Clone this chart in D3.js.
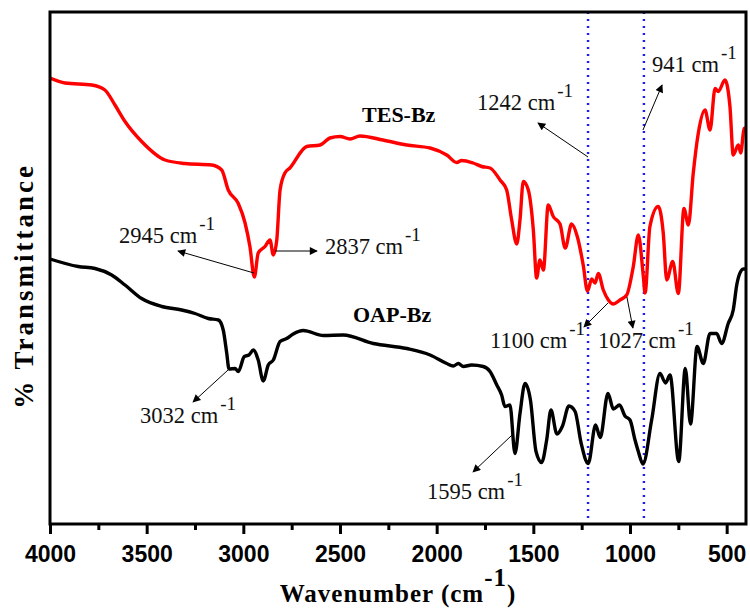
<!DOCTYPE html>
<html>
<head>
<meta charset="utf-8">
<script src="https://cdn.jsdelivr.net/npm/d3@7"></script>
<style>
  body { margin: 0; background: #fff; }
</style>
</head>
<body>
<div id="chart"></div>
<script>
// TES-Bz spectrum (red), wavenumber in cm-1 and transmittance (arb.)
var tes_wn = [4000,3922,3784,3716,3664,3612,3526,3405,3302,3164,3112,3078,3026,2991,2966,2943,2923,2888,2862,2845,2827,2810,2785,2759,2672,2603,2552,2500,2448,2397,2278,2155,2034,1948,1896,1871,1812,1767,1724,1672,1638,1612,1586,1569,1552,1526,1500,1483,1466,1448,1423,1397,1362,1335,1302,1272,1242,1220,1198,1181,1164,1138,1112,1086,1052,1017,983,957,931,922,897,854,828,810,779,750,721,698,673,647,612,586,560,543,509,483,466,440,427,410,400];
var tes_t = [89.2,88.2,87.8,86.8,83.8,80.5,76.5,72.8,72.1,71.8,70.8,66.8,64.1,60.2,55.5,49.4,54.2,55.5,56.8,53.8,56.8,66.8,70.2,71.2,75.5,75.8,77.2,77.5,77.0,77.6,76.8,75.8,75.2,73.8,72.3,72.7,72.2,71.5,71.2,68.8,66.8,60.8,56.0,60.8,68.5,66.8,58.8,49.2,52.8,50.8,63.8,61.5,60.0,55.2,60.0,57.4,51.8,46.6,49.0,48.2,50.1,46.8,44.8,44.0,44.8,45.8,51.5,57.8,49.5,46.2,59.5,63.5,58.2,48.8,52.5,46.1,63.1,59.8,70.1,78.1,82.8,78.8,87.1,86.5,88.8,83.5,73.8,75.8,74.2,79.1,79.2];

// OAP-Bz spectrum (black)
var oap_wn = [4000,3854,3767,3681,3612,3526,3422,3319,3250,3181,3129,3104,3086,3074,3043,3026,2995,2971,2948,2923,2897,2871,2845,2810,2776,2742,2690,2586,2483,2328,2155,2034,1948,1914,1888,1862,1819,1759,1724,1689,1664,1647,1621,1595,1569,1543,1515,1486,1457,1431,1409,1378,1349,1316,1284,1253,1216,1178,1154,1114,1086,1054,1026,1000,974,957,933,888,845,816,793,748,714,687,653,621,586,552,526,492,466,447,426,414,400];
var oap_t = [53.0,51.5,51.1,49.8,47.8,45.1,43.5,42.8,42.1,41.1,40.8,38.8,34.2,31.0,31.1,30.5,33.5,33.8,34.8,32.8,28.6,31.8,32.8,36.5,37.1,38.0,38.7,37.7,37.8,36.1,35.1,33.8,32.1,31.6,32.1,31.5,31.8,31.5,30.5,27.8,25.8,23.5,23.8,14.1,22.1,28.1,24.8,14.5,12.3,16.8,22.8,18.0,19.6,23.6,22.5,16.2,12.1,19.8,17.3,26.1,23.0,23.8,21.6,20.8,16.8,14.5,12.0,20.8,30.1,28.2,29.8,12.5,31.1,20.0,35.5,32.1,38.1,38.1,36.1,40.1,42.8,48.0,50.6,51.0,51.0];

var x_major = [4000,3500,3000,2500,2000,1500,1000,500];
var x_minor = [3750,3250,2750,2250,1750,1250,750];
var guide_wn = [1217, 928];

// peak labels: [text, arrow from (wn,t), arrow to (wn,t), text at (wn,t)]
var peak_labels = ["2945 cm", "2837 cm", "3032 cm", "1242 cm", "941 cm", "1100 cm", "1027 cm", "1595 cm"];
var peak_from = [[2945,50.2],[2836,54.6],[3079,30.8],[1217,73.4],[933,78.8],[1114,44.2],[1016,45.4],[1610,17.8]];
var peak_to = [[3338,54.6],[2619,54.6],[3260,24.4],[1476,80.2],[834,87.8],[1238,39.4],[985,39.2],[1812,10.4]];
var peak_text = [[3643,56.2],[2578,54.0],[3534,20.2],[1791,82.8],[886,90.4],[1724,35.2],[1166,35.2],[2050,5.0]];

var series_names = ["TES-Bz", "OAP-Bz"];
var series_pos = [[2386,80.4],[2433,40.4]];

var chart_width = 750, chart_height = 608;
var plot_left = 50, plot_right = 746, plot_top = 12, plot_bottom = 524;

var svg = d3.select("#chart")
            .append("svg")
            .attr("width", chart_width)
            .attr("height", chart_height);

var scale_x = d3.scaleLinear().domain([4000, 400]).range([plot_left, plot_right]);
var scale_y = d3.scaleLinear().domain([0, 102.4]).range([plot_bottom, plot_top]);

var serif = "'Liberation Serif', 'Times New Roman', serif";

// arrow head
svg.append("defs").append("marker")
    .attr("id", "head")
    .attr("viewBox", "0 0 10 10")
    .attr("refX", 9).attr("refY", 5)
    .attr("markerWidth", 13).attr("markerHeight", 8)
    .attr("markerUnits", "userSpaceOnUse")
    .attr("orient", "auto")
    .append("path")
    .attr("d", "M0,0 L10,5 L0,10 Z")
    .attr("fill", "#000");

// dotted guide lines
svg.selectAll(".guide")
    .data(guide_wn)
    .enter()
    .append("line")
    .attr("class", "guide")
    .attr("x1", function(d){ return scale_x(d); })
    .attr("x2", function(d){ return scale_x(d); })
    .attr("y1", plot_top)
    .attr("y2", plot_bottom)
    .attr("stroke", "#1a1aff")
    .attr("stroke-width", 2.4)
    .attr("stroke-dasharray", "2,5");

var line = d3.line()
    .x(function(d){ return scale_x(d[0]); })
    .y(function(d){ return scale_y(d[1]); })
    .curve(d3.curveMonotoneX);

svg.append("path")
    .datum(d3.zip(oap_wn, oap_t).reverse())
    .attr("d", line)
    .attr("fill", "none")
    .attr("stroke", "#000")
    .attr("stroke-width", 3.4)
    .attr("stroke-linejoin", "round");

svg.append("path")
    .datum(d3.zip(tes_wn, tes_t).reverse())
    .attr("d", line)
    .attr("fill", "none")
    .attr("stroke", "#ff0000")
    .attr("stroke-width", 3.4)
    .attr("stroke-linejoin", "round");

// annotation arrows
svg.selectAll(".arrow")
    .data(d3.range(peak_labels.length))
    .enter()
    .append("line")
    .attr("class", "arrow")
    .attr("x1", function(i){ return scale_x(peak_from[i][0]); })
    .attr("y1", function(i){ return scale_y(peak_from[i][1]); })
    .attr("x2", function(i){ return scale_x(peak_to[i][0]); })
    .attr("y2", function(i){ return scale_y(peak_to[i][1]); })
    .attr("stroke", "#000")
    .attr("stroke-width", 1)
    .attr("marker-end", "url(#head)");

var labels = svg.selectAll(".peak")
    .data(d3.range(peak_labels.length))
    .enter()
    .append("text")
    .attr("class", "peak")
    .attr("x", function(i){ return scale_x(peak_text[i][0]); })
    .attr("y", function(i){ return scale_y(peak_text[i][1]); })
    .attr("font-family", serif)
    .attr("font-size", 22.5)
    .attr("fill", "#111");
labels.append("tspan").text(function(i){ return peak_labels[i]; });
labels.append("tspan")
    .attr("dy", -13)
    .attr("dx", 2)
    .attr("font-size", 19)
    .text("-1");

// series names
svg.selectAll(".series")
    .data(series_names)
    .enter()
    .append("text")
    .attr("class", "series")
    .attr("x", function(d, i){ return scale_x(series_pos[i][0]); })
    .attr("y", function(d, i){ return scale_y(series_pos[i][1]); })
    .attr("font-family", serif)
    .attr("font-weight", "bold")
    .attr("font-size", 22)
    .text(function(d){ return d; });

// frame
svg.append("rect")
    .attr("x", plot_left).attr("y", plot_top)
    .attr("width", plot_right - plot_left).attr("height", plot_bottom - plot_top)
    .attr("fill", "none")
    .attr("stroke", "#000")
    .attr("stroke-width", 3);

// x axis
var axis_major = d3.axisBottom(scale_x)
    .tickValues(x_major)
    .tickSize(10)
    .tickSizeOuter(0)
    .tickPadding(12)
    .tickFormat(d3.format("d"));
var gx = svg.append("g")
    .attr("transform", "translate(0," + plot_bottom + ")")
    .call(axis_major);
gx.select(".domain").remove();
gx.selectAll("line").attr("stroke-width", 3);
gx.selectAll("text")
    .attr("font-family", "'Liberation Sans', Arial, sans-serif")
    .attr("font-weight", "bold")
    .attr("font-size", 23)
    .attr("fill", "#000");

var gm = svg.append("g")
    .attr("transform", "translate(0," + plot_bottom + ")")
    .call(d3.axisBottom(scale_x).tickValues(x_minor).tickSize(6).tickFormat(""));
gm.select(".domain").remove();
gm.selectAll("line").attr("stroke-width", 3);

// axis titles
var xt = svg.append("text")
    .attr("x", (plot_left + plot_right) / 2)
    .attr("y", 602)
    .attr("text-anchor", "middle")
    .attr("font-family", serif)
    .attr("font-weight", "bold")
    .attr("font-size", 25)
    .attr("letter-spacing", 1);
xt.append("tspan").text("Wavenumber (cm");
xt.append("tspan").attr("dy", -16).attr("font-size", 25).text("-1");
xt.append("tspan").attr("dy", 16).text(")");

svg.append("text")
    .attr("transform", "translate(33," + ((plot_top + plot_bottom) / 2 + 18) + ") rotate(-90)")
    .attr("text-anchor", "middle")
    .attr("font-family", serif)
    .attr("font-weight", "bold")
    .attr("font-size", 27)
    .attr("letter-spacing", 3)
    .text("% Transmittance");
</script>
</body>
</html>
